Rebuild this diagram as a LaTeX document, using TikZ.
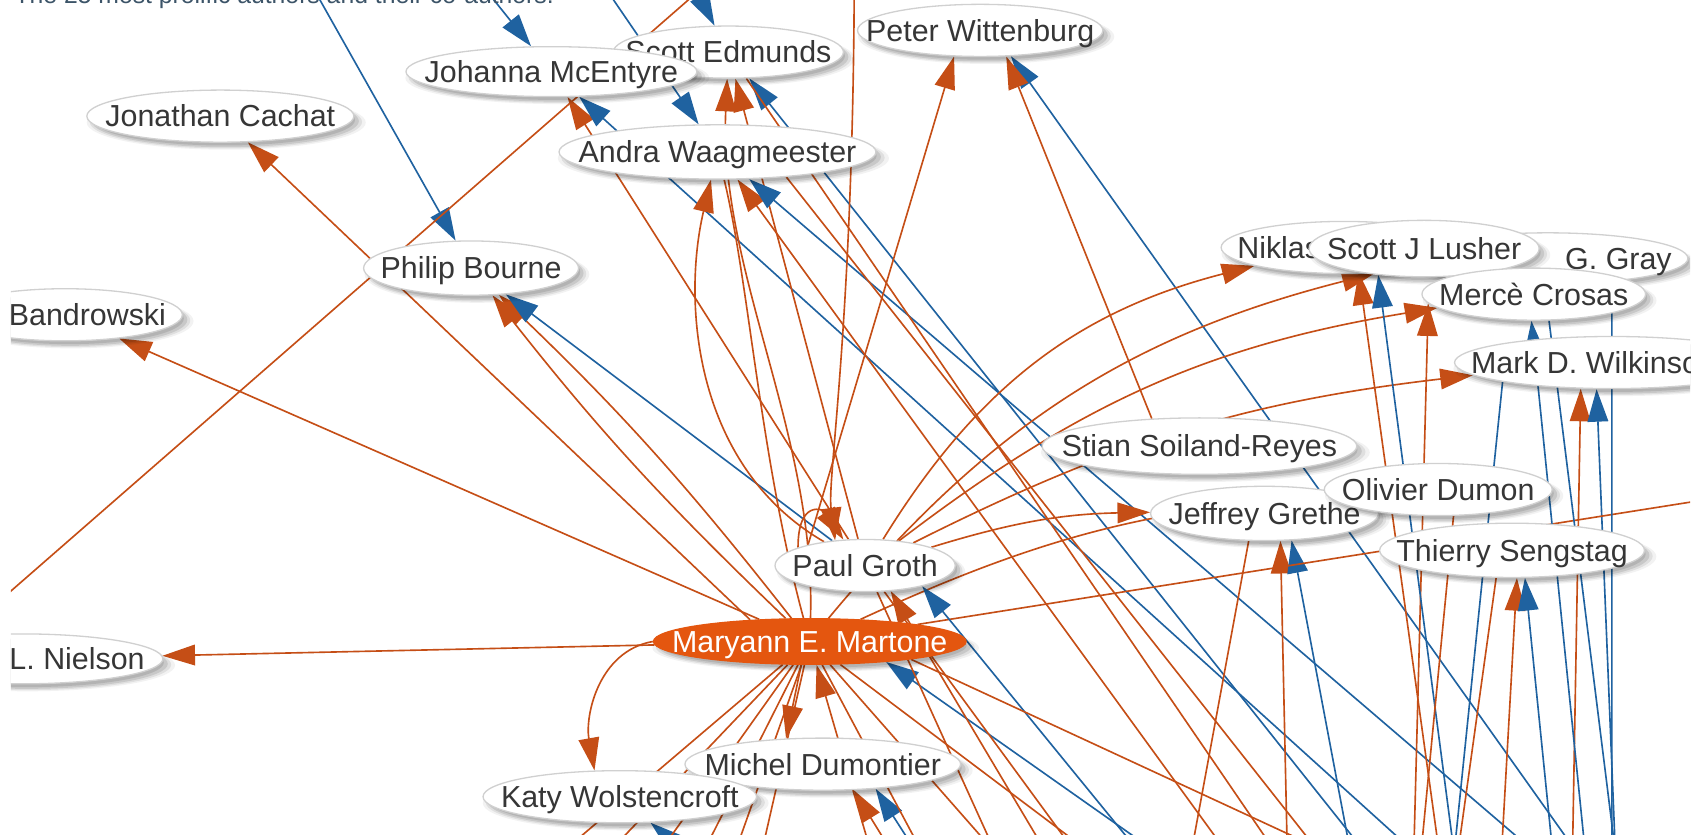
\documentclass[tikz,border=0pt]{standalone}
\usepackage{fontspec}
\setmainfont{Liberation Sans}
\usetikzlibrary{arrows.meta,shapes.geometric,shadows}
\definecolor{ecol}{HTML}{C54E16}
\definecolor{bcol}{HTML}{1F62A0}
\definecolor{mmfill}{HTML}{E4560F}
\definecolor{nodeborder}{HTML}{D0D0D0}
\definecolor{nodetext}{HTML}{363636}
\definecolor{hdrcol}{HTML}{3C5468}
\pgfdeclarelayer{bg}
\pgfdeclarelayer{edges}
\pgfsetlayers{bg,edges,main}
\newcommand\authorlbl[2][0pt]{\makebox[0pt]{\hspace*{#1}#2}}
\begin{document}
\begin{tikzpicture}[x=0.5pt,y=-0.5pt,
  nodeshadow/.style={drop shadow={shadow xshift=2.6pt,shadow yshift=-2.8pt,opacity=0.05,fill=black,shadow scale=1.045},
                     drop shadow={shadow xshift=2.5pt,shadow yshift=-2.6pt,opacity=0.08,fill=black,shadow scale=1.02},
                     drop shadow={shadow xshift=2.3pt,shadow yshift=-2.3pt,opacity=0.10,fill=black},
                     drop shadow={shadow xshift=1.8pt,shadow yshift=-1.8pt,opacity=0.10,fill=black,shadow scale=0.98}},
  author/.style={ellipse, draw=nodeborder, line width=0.6pt, fill=white, inner sep=0pt,
                 text=nodetext, font=\fontsize{14}{16}\selectfont, text height=10pt, text depth=0pt, nodeshadow},
  oe/.style={draw=ecol, line width=0.75pt, -{Triangle[length=15pt,width=9.5pt]}},
  be/.style={draw=bcol, line width=0.75pt, -{Triangle[length=15pt,width=9.5pt]}},
  ol/.style={draw=ecol, line width=0.75pt},
  bl/.style={draw=bcol, line width=0.75pt},
]
\useasboundingbox (0,0) rectangle (1568,769);
\begin{pgfonlayer}{bg}
\fill[white] (0,0) rectangle (1568,769);
\end{pgfonlayer}

\node[anchor=base west, text=hdrcol, font=\fontsize{11.4}{13}\selectfont, inner sep=0pt] (hdr) at (13,3)
  {The 25 most prolific authors and their co-authors.};

\begin{scope}
\clip (10,0) rectangle (1557,769);
\node[author, minimum width=123pt, minimum height=24pt] (JC) at (203,107) {\authorlbl{Jonathan Cachat}};
\node[author, minimum width=108pt, minimum height=24pt] (AB) at (60,290) {\authorlbl[20.5pt]{Bandrowski}};
\node[author, minimum width=130pt, minimum height=23pt] (LN) at (20,607) {\authorlbl[51pt]{L. Nielson}};
\node[author, minimum width=99pt, minimum height=25pt] (PB) at (434,247) {\authorlbl{Philip Bourne}};
\node[author, minimum width=106pt, minimum height=24pt] (SE) at (671,48) {\authorlbl{Scott Edmunds}};
\node[author, minimum width=134pt, minimum height=23pt] (J) at (508,66) {\authorlbl{Johanna McEntyre}};
\node[author, minimum width=113pt, minimum height=24pt] (PW) at (903,28) {\authorlbl{Peter Wittenburg}};
\node[author, minimum width=146pt, minimum height=25pt] (AW) at (661,140) {\authorlbl{Andra Waagmeester}};
\node[author, minimum width=113pt, minimum height=24pt] (NB) at (1238,228) {\authorlbl[-60pt]{Niklas}};
\node[author, minimum width=129pt, minimum height=23.5pt] (AG) at (1426,238) {\authorlbl[65pt]{G. Gray}};
\node[author, minimum width=106pt, minimum height=26pt] (SL) at (1312,229) {\authorlbl{Scott J Lusher}};
\node[author, minimum width=103pt, minimum height=24pt] (MC) at (1413,271) {\authorlbl{Mercè Crosas}};
\node[author, minimum width=145pt, minimum height=24pt] (MW) at (1485,334) {\authorlbl[-17pt]{Mark D. Wilkinson}};
\node[author, minimum width=145pt, minimum height=26pt] (SS) at (1105,411) {\authorlbl{Stian Soiland-Reyes}};
\node[author, minimum width=105pt, minimum height=25pt] (JG) at (1165,473) {\authorlbl{Jeffrey Grethe}};
\node[author, minimum width=105pt, minimum height=24pt] (OD) at (1325,451) {\authorlbl{Olivier Dumon}};
\node[author, minimum width=122pt, minimum height=25pt] (TS) at (1393,507) {\authorlbl{Thierry Sengstag}};
\node[author, minimum width=83pt, minimum height=24pt] (PG) at (797,521) {\authorlbl{Paul Groth}};
\node[author, minimum width=144pt, minimum height=21pt, fill=mmfill, draw=mmfill, text=white] (MM) at (746,591) {\authorlbl{Maryann E. Martone}};
\node[author, minimum width=127pt, minimum height=24pt] (MD) at (758,704) {\authorlbl{Michel Dumontier}};
\node[author, minimum width=126pt, minimum height=24pt] (KW) at (571,734) {\authorlbl{Katy Wolstencroft}};
\end{scope}

% off-canvas ends
\coordinate (tA) at (288,-12);  \coordinate (tB) at (443,-15); \coordinate (tC) at (555,-15);
\coordinate (tD) at (633,-25);  \coordinate (tE) at (657,-20); \coordinate (tF) at (787,-20);
\coordinate (lA) at (-10,562);  \coordinate (rR) at (1700,440);
\coordinate (bo1) at (1199,880); \coordinate (bo2) at (1290,880); \coordinate (bo3) at (1339,880);
\coordinate (bo4) at (1300,880); \coordinate (bo5) at (1447,880); \coordinate (bo6) at (1188,880);
\coordinate (bo7) at (1378,880); \coordinate (bo8) at (880,880);  \coordinate (bo9) at (830,880);
\coordinate (bo10) at (1020,880);
\coordinate (bb1) at (1525,880); \coordinate (bb2) at (1333,880); \coordinate (bb3) at (1408,880);
\coordinate (bb4) at (1520,880); \coordinate (bb5) at (1352,880); \coordinate (bb6) at (1492,880);
\coordinate (bb7) at (1262,880); \coordinate (bb8) at (1440,880); \coordinate (bb9) at (1200,880);
\coordinate (bb10) at (1127,880); \coordinate (bb11) at (905,880); \coordinate (bb13) at (1470,880);
\coordinate (bb14) at (720,860); \coordinate (bb15) at (1500,880);
\coordinate (bx1) at (900,880);  \coordinate (bx2) at (1000,880); \coordinate (bx3) at (1060,880);
\coordinate (bx4) at (1320,830); \coordinate (bx5) at (1130,880); \coordinate (bx6) at (960,880);
\coordinate (bx8) at (1240,880); \coordinate (bx9) at (1080,880); \coordinate (bx10) at (1300,880);
\coordinate (bx11) at (1330,880); \coordinate (bx12) at (1485,880);
\coordinate (bl1) at (430,860); \coordinate (bl2) at (480,870); \coordinate (bl3) at (540,880);
\coordinate (bl4) at (600,880); \coordinate (bl5) at (640,890); \coordinate (bl6) at (680,880);

\begin{pgfonlayer}{edges}
\begin{scope}
\clip (10,0) rectangle (1557,769);
% top
\draw[be] (tA) -- (PB);
\draw[be] (tB) -- (J);
\draw[be] (tC) -- (AW);
\draw[be] (tD) -- (SE);
\draw[ol] (tE) -- (lA);
% left
\draw[oe] (MM.160) -- (JC);
\draw[oe] (MM) -- (AB);
\draw[oe] (MM) -- (LN);
\draw[oe] (MM.west) to[out=190,in=100] (KW.134);
\draw[oe] (MM) to[bend left=4] (PB);
\draw[oe] (MM) to[bend right=4] (PB);
\draw[be] (PG) -- (PB);
% upper nodes
\draw[oe] (PG) -- (J);
\draw[be] (bb3) -- (J);
\draw[oe] (MM) .. controls (752,400) and (662,250) .. (SE);
\draw[oe] (PG) -- (SE);
\draw[be] (bb2) -- (SE);
\draw[oe] (PG) .. controls (640,430) and (628,280) .. (AW);
\draw[ol] (MM) .. controls (700,420) and (690,260) .. (AW);
\draw[oe] (bo1) -- (AW);
\draw[be] (bb1) -- (AW);
\draw[ol] (AW.-20) -- (bo2);
\draw[ol] (SE) -- (bx8);
\draw[be] (bb4) -- (PW.-40);
\draw[oe] (PG.160) -- (PW.225);
\draw[oe] (SS.150) -- (PW.-45);
\draw[oe] (tF) .. controls (786,300) and (762,440) .. (PG.140);
\draw[oe] (PG.165) .. controls +(0,-45) and +(-18,-28) .. (PG.130);
% right side
\draw[oe] (PG) to[bend left=22] (NB);
\draw[oe] (MM) to[bend left=18] (NB.-40);
\draw[oe] (PG) to[bend left=14] (MC);
\draw[oe] (bo4) -- (MC.185);
\draw[oe] (PG) to[bend left=10] (MW);
\draw[oe] (bo5) -- (MW.-140);
\draw[be] (bb6) -- (MW.-120);
\draw[oe] (bo3) -- (SL.-160);
\draw[be] (bb5) -- (SL.-150);
\draw[oe] (PG) to[bend left=8] (JG);
\draw[oe] (MM) to[bend left=10] (OD);
\draw[oe] (bo6) -- (JG.-60);
\draw[be] (bb7) -- (JG.-45);
\draw[oe] (bo7) -- (TS.-80);
\draw[be] (bb8) -- (TS.-65);
\draw[ol] (MM) -- (rR);
\draw[be] (bb13) -- (MC.-95);
\draw[bl] (MC.-60) -- (bb15);
\draw[bl] (AG.-20) -- (bx12);
\draw[bl] (MW.-170) -- (bx11);
\draw[ol] (OD.-60) -- (bx10);
\draw[ol] (JG.-120) -- (bx9);
\draw[ol] (TS.-120) -- (bx11);
% around Maryann
\draw[oe] (bo9) -- (MM);
\draw[be] (bb9) -- (MM.-15);
\draw[be] (bb10) -- (PG.-20);
\draw[oe] (bo10) -- (PG.-45);
\draw[oe] (MM.-110) -- (MD.145);
\draw[oe] (bo8) -- (MD.-40);
\draw[be] (bb11) -- (MD.-25);
\draw[be] (bb14) -- (KW);
\draw[ol] (MM) -- (bx1);
\draw[ol] (MM) -- (bx2);
\draw[ol] (PG) -- (bx3);
\draw[ol] (MM.-10) -- (bx4);
\draw[ol] (MM) -- (bx5);
\draw[ol] (PG) -- (bx6);
\draw[ol] (MM) -- (bl1);
\draw[ol] (MM) -- (bl2);
\draw[ol] (MM) -- (bl3);
\draw[ol] (MM) -- (bl4);
\draw[ol] (MM) -- (bl5);
\draw[ol] (MM) -- (bl6);
\end{scope}
\end{pgfonlayer}
\end{tikzpicture}
\end{document}
